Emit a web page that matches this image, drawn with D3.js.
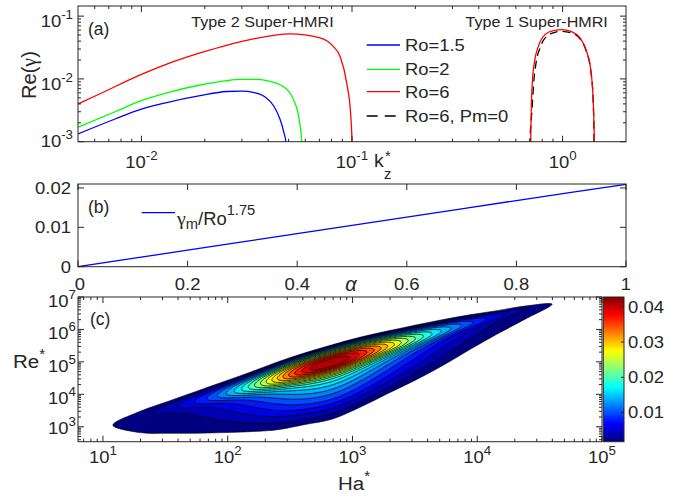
<!DOCTYPE html>
<html><head><meta charset="utf-8">
<script src="https://cdn.jsdelivr.net/npm/d3@7"></script>
<style>
body{margin:0;background:#fff;}
svg text{font-family:"Liberation Sans",Arial,sans-serif;fill:#262626;}
</style></head><body>
<svg id="fig" width="681" height="498"></svg>
<script>
// ---------------- DATA ----------------
// Panel (a): growth rate vs k_z*
const kRo15 = [0.005, 0.0075, 0.01, 0.0132, 0.019, 0.0254, 0.03, 0.034, 0.0385, 0.0425, 0.0455, 0.0475, 0.0485, 0.0487];
const gRo15 = [0.00133, 0.0023, 0.0033, 0.0042, 0.0054, 0.0063, 0.0064, 0.0061, 0.0052, 0.0037, 0.0023, 0.0014, 0.001, 0.0002];
const kRo2 = [0.005, 0.0075, 0.01, 0.0132, 0.019, 0.025, 0.0294, 0.035, 0.0393, 0.0473, 0.0527, 0.0561, 0.0577, 0.0579];
const gRo2 = [0.0017, 0.003, 0.0045, 0.006, 0.008, 0.0093, 0.0098, 0.0098, 0.0094, 0.0075, 0.0047, 0.00225, 0.001, 0.0002];
const kRo6 = [0.005, 0.00636, 0.01, 0.0132, 0.019, 0.0328, 0.0508, 0.0705, 0.0814, 0.0877, 0.0944, 0.0987, 0.1, 0.1003];
const gRo6 = [0.004, 0.0058, 0.0118, 0.0172, 0.0259, 0.0423, 0.0521, 0.045, 0.033, 0.023, 0.0086, 0.00254, 0.001, 0.0002];
const kRo6T1 = [0.7045, 0.706, 0.710, 0.718, 0.734, 0.767, 0.825, 0.903, 0.99, 1.104, 1.21, 1.30, 1.36, 1.394, 1.415, 1.417];
const gRo6T1 = [0.0002, 0.001, 0.00325, 0.0086, 0.018, 0.033, 0.0507, 0.0588, 0.061, 0.0566, 0.045, 0.0275, 0.014, 0.0053, 0.001, 0.0002];
const kPm0 = [0.6985, 0.700, 0.716, 0.729, 0.748, 0.781, 0.84, 0.92, 0.99, 1.104, 1.21, 1.30, 1.36, 1.394, 1.41, 1.412];
const gPm0 = [0.0002, 0.001, 0.00325, 0.0086, 0.018, 0.031, 0.0478, 0.0553, 0.0574, 0.0538, 0.0434, 0.0265, 0.0137, 0.0053, 0.001, 0.0002];
const legendA = ["Ro=1.5", "Ro=2", "Ro=6", "Ro=6, Pm=0"];
const xTicksA = [0.01, 0.1, 1], xTickExpA = ["-2", "-1", "0"];
const yTicksA = [0.001, 0.01, 0.1], yTickExpA = ["-3", "-2", "-1"];

// Panel (b): gamma_m / Ro^1.75 vs alpha
const alphaB = [0, 0.1, 0.2, 0.3, 0.4, 0.5, 0.6, 0.7, 0.8, 0.9, 1.0];
const gmB = [0, 0.0021, 0.0042, 0.0063, 0.0084, 0.0105, 0.0126, 0.0147, 0.0168, 0.0189, 0.0209];
const xTicksB = [0, 0.2, 0.4, 0.6, 0.8, 1], yTicksB = [0, 0.01, 0.02];

// Panel (c): growth-rate map in (Ha*, Re*) plane
const knotLogHa = [1.08, 1.30, 1.52, 1.74, 1.96, 2.18, 2.40, 2.62, 2.84, 3.06, 3.28, 3.50, 3.72, 3.94, 4.16, 4.38, 4.60];
const topLogRe  = [3.05, 3.48, 3.78, 4.08, 4.38, 4.68, 5.00, 5.28, 5.53, 5.76, 5.95, 6.13, 6.30, 6.45, 6.58, 6.72, 6.78];
const botLogRe  = [3.05, 2.82, 2.80, 2.80, 2.82, 2.85, 2.91, 3.07, 3.24, 3.60, 4.02, 4.43, 4.88, 5.38, 5.86, 6.31, 6.78];
const ampAlong  = [0, 0.03, 0.07, 0.14, 0.26, 0.44, 0.68, 0.92, 1.0, 0.88, 0.68, 0.48, 0.33, 0.2, 0.11, 0.05, 0];
const ampAcross = [0, 0.038, 0.075, 0.11, 0.15, 0.19, 0.225, 0.26, 0.30, 0.34, 0.39, 0.46, 0.58, 0.76, 0.94, 1.0, 0.97, 0.86, 0.62, 0.30, 0];
const gammaMin = 0.0017, gammaMax = 0.0428, nLevels = 20;
const xTicksC = [1e1, 1e2, 1e3, 1e4, 1e5], xTickExpC = ["1", "2", "3", "4", "5"];
const yTicksC = [1e3, 1e4, 1e5, 1e6, 1e7], yTickExpC = ["3", "4", "5", "6", "7"];
const cbTicks = [0.01, 0.02, 0.03, 0.04];

// ---------------- HELPERS ----------------
const svg = d3.select("#fig");
const AX = "#262626";
const SX = 1.12; // horizontal stretch of the original figure's lettering
function jet(x){
  const c = v => Math.max(0, Math.min(1, v));
  return d3.rgb(255*c(1.5-Math.abs(4*x-3)), 255*c(1.5-Math.abs(4*x-2)), 255*c(1.5-Math.abs(4*x-1))).toString();
}
function txt(g, x, y, fs, anchor, sx){
  return g.append("text").attr("transform",`translate(${x},${y}) scale(${sx||SX},1)`)
    .attr("text-anchor",anchor||"start").attr("font-size",fs);
}
function logMinor(lo, hi){
  const out=[];
  for(let e=Math.floor(Math.log10(lo))-1; e<=Math.ceil(Math.log10(hi)); e++){
    for(let m=2;m<=9;m++){const v=m*Math.pow(10,e); if(v>lo*1.0001 && v<hi*0.9999) out.push(v);}
  }
  return out;
}
function frame(g, x0, x1, y0, y1){
  g.append("rect").attr("x",x0).attr("y",y1).attr("width",x1-x0).attr("height",y0-y1)
   .attr("fill","none").attr("stroke",AX).attr("stroke-width",1);
}
function xTicksDraw(g, xs, vals, y0, y1, len){
  vals.forEach(v=>{
    const x=xs(v);
    g.append("line").attr("x1",x).attr("x2",x).attr("y1",y0).attr("y2",y0-len).attr("stroke",AX);
    g.append("line").attr("x1",x).attr("x2",x).attr("y1",y1).attr("y2",y1+len).attr("stroke",AX);
  });
}
function yTicksDraw(g, ys, vals, x0, x1, len){
  vals.forEach(v=>{
    const y=ys(v);
    g.append("line").attr("x1",x0).attr("x2",x0+len).attr("y1",y).attr("y2",y).attr("stroke",AX);
    g.append("line").attr("x1",x1).attr("x2",x1-len).attr("y1",y).attr("y2",y).attr("stroke",AX);
  });
}
function powLabel(g, x, y, exp, anchor, fs){
  const t=txt(g, x, y, fs, anchor);
  t.append("tspan").text("10");
  t.append("tspan").attr("dy",-8).attr("font-size",fs*0.72).text(exp);
}

// ---------------- PANEL (a) ----------------
const ga = svg.append("g");
const xA = d3.scaleLog().domain([0.005, 2]).range([78, 626]);
const yA = d3.scaleLog().domain([0.001, 0.145]).range([141.7, 6]);
svg.append("clipPath").attr("id","clipA").append("rect").attr("x",78).attr("y",6).attr("width",548).attr("height",135.7);
const lineA = d3.line().x(d=>xA(d[0])).y(d=>yA(d[1])).curve(d3.curveMonotoneX);
const curvesA = [
  {k:kRo15, g:gRo15, c:"#0000ff", dash:null},
  {k:kRo2, g:gRo2, c:"#00ff00", dash:null},
  {k:kRo6, g:gRo6, c:"#ff0000", dash:null},
  {k:kPm0, g:gPm0, c:"#000000", dash:"8,5"},
  {k:kRo6T1, g:gRo6T1, c:"#ff0000", dash:null}
];
const cg = ga.append("g").attr("clip-path","url(#clipA)");
curvesA.forEach(s=>{
  cg.append("path").attr("d", lineA(s.k.map((k,i)=>[k, s.g[i]]))).attr("fill","none")
    .attr("stroke", s.c).attr("stroke-width",1.3).attr("stroke-dasharray", s.dash);
});
frame(ga, 78, 626, 141.7, 6);
xTicksDraw(ga, xA, xTicksA, 141.7, 6, 6);
xTicksDraw(ga, xA, logMinor(0.005, 2), 141.7, 6, 3);
yTicksDraw(ga, yA, yTicksA, 78, 626, 6);
yTicksDraw(ga, yA, logMinor(0.001, 0.145), 78, 626, 3);
xTicksA.forEach((v,i)=>powLabel(ga, xA(v), 168, xTickExpA[i], "middle", 16.5));
yTicksA.forEach((v,i)=>powLabel(ga, 73, Math.min(yA(v)+11, 147), yTickExpA[i], "end", 16.5));
const ylab = txt(ga, 36, 75, 20, "middle", 1).attr("transform","translate(36,75) rotate(-90)");
ylab.append("tspan").text("Re(");
ylab.append("tspan").attr("font-family","Liberation Serif").text("γ");
ylab.append("tspan").text(")");
txt(ga, 374, 167, 18.5, "start", 1.05).text("k");
txt(ga, 384, 179, 14, "start", 1.05).text("z");
txt(ga, 385, 161, 14, "start", 1.05).text("*");
txt(ga, 88, 35, 17.5, "start", 1).text("(a)");
txt(ga, 262.5, 26.5, 14.4, "middle").text("Type 2 Super-HMRI");
txt(ga, 536.7, 26.5, 14.4, "middle").text("Type 1 Super-HMRI");
const legY = [45, 69.3, 91.7, 116];
const legC = ["#0000ff","#00ff00","#ff0000","#000000"];
legendA.forEach((t,i)=>{
  ga.append("line").attr("x1",366.7).attr("x2",400).attr("y1",legY[i]).attr("y2",legY[i])
    .attr("stroke",legC[i]).attr("stroke-width",1.3).attr("stroke-dasharray", i===3?"11,7":null);
  txt(ga, 405, legY[i]+6, 16, "start", 1.15).text(t);
});

// ---------------- PANEL (b) ----------------
const gb = svg.append("g");
const xB = d3.scaleLinear().domain([0,1]).range([78,626]);
const yB = d3.scaleLinear().domain([0,0.021]).range([266.7,184]);
gb.append("path").attr("d", d3.line().x(d=>xB(d[0])).y(d=>yB(d[1]))(alphaB.map((a,i)=>[a,gmB[i]])))
  .attr("fill","none").attr("stroke","#0000ff").attr("stroke-width",1.3);
frame(gb, 78, 626, 266.7, 184);
xTicksDraw(gb, xB, xTicksB, 266.7, 184, 6);
yTicksDraw(gb, yB, yTicksB, 78, 626, 6);
xTicksB.forEach(v=>txt(gb, xB(v)+(v===0?2:0), 290, 16.5, "middle").text(d3.format("~g")(v)));
yTicksB.forEach(v=>txt(gb, 71, yB(v)+6, 16.5, "end").text(d3.format("~g")(v)));
txt(gb, 351, 291, 20, "middle", 1).attr("font-family","Liberation Serif").attr("font-style","italic").text("α");
txt(gb, 88, 213, 17.5, "start", 1).text("(b)");
gb.append("line").attr("x1",141.7).attr("x2",175).attr("y1",212.7).attr("y2",212.7).attr("stroke","#0000ff").attr("stroke-width",1.3);
const lb = txt(gb, 177, 225, 17.5, "start", 1.05);
lb.append("tspan").attr("font-family","Liberation Serif").attr("font-size",19).text("γ");
lb.append("tspan").attr("dy",4).attr("font-size",14).text("m");
lb.append("tspan").attr("dy",-4).text("/Ro");
lb.append("tspan").attr("dy",-10).attr("font-size",14).text("1.75");

// ---------------- PANEL (c) ----------------
const gc = svg.append("g");
const xC = d3.scaleLog().domain([Math.pow(10,0.8), 1e5]).range([78, 602]);
const yC = d3.scaleLog().domain([Math.pow(10,2.54), 1e7]).range([441.7, 297]);
const u0=0.8, u1=5.0, v0=2.54, v1=7.0, nx=421, ny=224;
const du=(u1-u0)/(nx-1), dv=(v1-v0)/(ny-1);
const topF=d3.interpolateBasis(topLogRe), botF=d3.interpolateBasis(botLogRe);
const aF=d3.interpolateBasis(ampAlong), bF=d3.interpolateBasis(ampAcross);
const kLo=knotLogHa[0], kHi=knotLogHa[knotLogHa.length-1];
const raw=new Float64Array(nx*ny);
let fmax=0;
for(let j=0;j<ny;j++){
  const v=v0+j*dv;
  for(let i=0;i<nx;i++){
    const u=u0+i*du;
    const s=(u-kLo)/(kHi-kLo);
    let f=0;
    if(s>0 && s<1){
      const vt=topF(s), vb=botF(s);
      const t=(v-vb)/(vt-vb);
      if(t>0 && t<1) f=Math.max(0,aF(s))*Math.max(0,bF(t));
    }
    raw[j*nx+i]=f; if(f>fmax) fmax=f;
  }
}
const field=Array.from(raw, f=> f>0 ? gammaMin+(gammaMax-gammaMin)*f/fmax : 0);
const levels=d3.range(1,nLevels).map(i=>gammaMin+(gammaMax-gammaMin)*i/nLevels);
const cs=d3.contours().size([nx,ny]).thresholds(levels)(field);
const proj=d3.geoTransform({point:function(x,y){
  this.stream.point(xC(Math.pow(10,u0+(x-0.5)*du)), yC(Math.pow(10,v0+(y-0.5)*dv)));
}});
const gpath=d3.geoPath(proj);
svg.append("clipPath").attr("id","clipC").append("rect").attr("x",78).attr("y",297).attr("width",524).attr("height",144.7);
const cc=gc.append("g").attr("clip-path","url(#clipC)");
const outerPts = knotLogHa.map((u,i)=>[u, topLogRe[i]])
  .concat(knotLogHa.slice(1,-1).map((u,i)=>[u, botLogRe[i+1]]).reverse());
cc.append("path").attr("d", d3.line().x(d=>xC(Math.pow(10,d[0]))).y(d=>yC(Math.pow(10,d[1]))).curve(d3.curveCatmullRomClosed)(outerPts))
  .attr("fill", jet(0)).attr("stroke","#000").attr("stroke-width",0.6);
cs.forEach(c=>{
  cc.append("path").attr("d", gpath(c)).attr("fill", jet((c.value-gammaMin)/(gammaMax-gammaMin)))
    .attr("stroke","#000").attr("stroke-width",0.75);
});
frame(gc, 78, 602, 441.7, 297);
xTicksDraw(gc, xC, xTicksC, 441.7, 297, 6);
xTicksDraw(gc, xC, logMinor(Math.pow(10,0.8), 1e5), 441.7, 297, 3);
yTicksDraw(gc, yC, yTicksC, 78, 602, 6);
yTicksDraw(gc, yC, logMinor(Math.pow(10,2.54), 1e7), 78, 602, 3);
xTicksC.forEach((v,i)=>powLabel(gc, xC(v), 463, xTickExpC[i], "middle", 16.5));
yTicksC.forEach((v,i)=>powLabel(gc, 76, Math.min(yC(v)+10, 433.5), yTickExpC[i], "end", 16.5));
txt(gc, 90, 325, 17.5, "start", 1).text("(c)");
const rl=txt(gc, 13, 368, 19, "start", 1.08);
rl.append("tspan").text("Re"); rl.append("tspan").attr("dy",-9).attr("font-size",14).text("*");
const hl=txt(gc, 338, 490, 19, "start", 1.08);
hl.append("tspan").text("Ha"); hl.append("tspan").attr("dy",-9).attr("font-size",14).text("*");
const defs=svg.append("defs");
const lg=defs.append("linearGradient").attr("id","jetg").attr("x1",0).attr("y1",1).attr("x2",0).attr("y2",0);
d3.range(0,1.0001,0.02).forEach(p=>lg.append("stop").attr("offset",p).attr("stop-color",jet(p)));
const yCb=d3.scaleLinear().domain([gammaMin,gammaMax]).range([441.7,297]);
gc.append("rect").attr("x",603.3).attr("y",297).attr("width",20.7).attr("height",144.7).attr("fill","url(#jetg)")
  .attr("stroke",AX).attr("stroke-width",1);
cbTicks.forEach(v=>{
  gc.append("line").attr("x1",624).attr("x2",621).attr("y1",yCb(v)).attr("y2",yCb(v)).attr("stroke",AX);
  txt(gc, 628, yCb(v)+6, 16.5, "start").text(d3.format(".2f")(v));
});
</script>
</body></html>
